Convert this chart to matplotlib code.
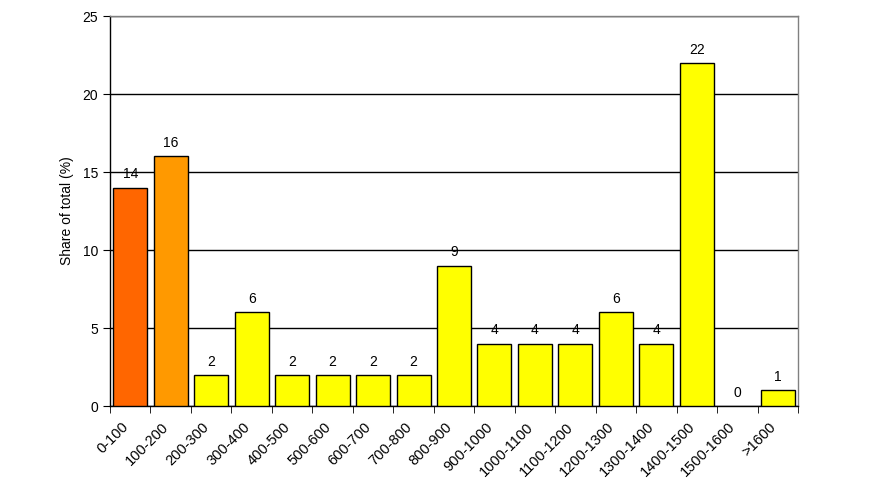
import matplotlib
matplotlib.use("Agg")
import matplotlib.pyplot as plt
import matplotlib.transforms as mtransforms
import numpy as np

categories = ["0-100", "100-200", "200-300", "300-400", "400-500", "500-600",
              "600-700", "700-800", "800-900", "900-1000", "1000-1100",
              "1100-1200", "1200-1300", "1300-1400", "1400-1500",
              "1500-1600", ">1600"]
values = [14, 16, 2, 6, 2, 2, 2, 2, 9, 4, 4, 4, 6, 4, 22, 0, 1]
colors = ["#FF6600", "#FF9900"] + ["#FFFF00"] * 15

plt.rcParams['font.family'] = ['Liberation Sans', 'DejaVu Sans']
fig = plt.figure(figsize=(8.74, 4.93), dpi=100)
ax = fig.add_axes([110/874, 87/493, (798-110)/874, (406-16)/493])

x = np.arange(len(categories))
edge_widths = [1 if v > 0 else 0 for v in values]
ax.bar(x, values, width=0.84, color=colors, edgecolor="black", linewidth=edge_widths, zorder=3)
for xi, v in zip(x, values):
    ax.text(xi, v + 0.4, str(v), ha="center", va="bottom", fontsize=10, zorder=4)

ax.set_xlim(-0.5, len(categories) - 0.5)
ax.set_ylim(0, 25)
ax.set_yticks([0, 5, 10, 15, 20, 25])
ax.yaxis.grid(True, color="black", linewidth=1, zorder=0)
ax.set_axisbelow(True)

ax.set_xticks(x)
ax.set_xticklabels(categories, rotation=45, ha="right", rotation_mode="anchor", fontsize=10.5)
ax.tick_params(axis="x", length=0, pad=10)
offset = mtransforms.ScaledTranslation(-9/100, 0, fig.dpi_scale_trans)
for lbl in ax.get_xticklabels():
    lbl.set_transform(lbl.get_transform() + offset)
ax.set_xticks(np.arange(-0.5, len(categories)), minor=True)
ax.tick_params(axis="x", which="minor", length=5, direction="out", color="black")
ax.tick_params(axis="y", length=5, direction="out", labelsize=10, color="black")

ax.set_ylabel("Share of total (%)", fontsize=10, labelpad=6)

for s in ["left", "bottom"]:
    ax.spines[s].set_color("black")
    ax.spines[s].set_linewidth(1)
for s in ["top", "right"]:
    ax.spines[s].set_color("#808080")
    ax.spines[s].set_linewidth(1)

fig.savefig("out.png", dpi=100)
